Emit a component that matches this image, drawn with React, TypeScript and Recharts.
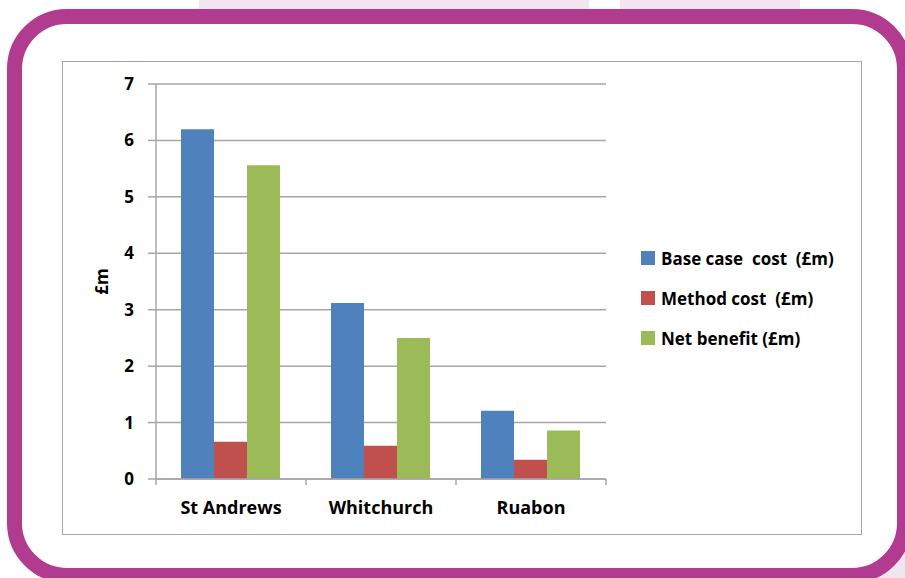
import { BarChart, Bar, XAxis, YAxis, CartesianGrid, Legend } from "recharts";

// Sites and values (£m)
const sites = ["St Andrews", "Whitchurch", "Ruabon"];
const baseCaseCost = [6.2, 3.12, 1.21];
const methodCost = [0.66, 0.59, 0.34];
const netBenefit = [5.56, 2.5, 0.86];
const yTicks = [0, 1, 2, 3, 4, 5, 6, 7];

const seriesInfo = [
  { key: "base", name: "Base case  cost  (£m)", color: "#4F81BD" },
  { key: "method", name: "Method cost  (£m)", color: "#C0504D" },
  { key: "net", name: "Net benefit (£m)", color: "#9BBB59" },
];

const data = sites.map((site, i) => ({
  site,
  base: baseCaseCost[i],
  method: methodCost[i],
  net: netBenefit[i],
}));

const FONT = "'Open Sans', 'DejaVu Sans', sans-serif";
const GRID = "#A6A6A6";

// chart geometry
const W = 905;
const H = 578;
const MARGIN = { top: 84, right: 299, bottom: 69, left: 60 };
const Y_AXIS_W = 96;
const PLOT_W = W - MARGIN.left - Y_AXIS_W - MARGIN.right;
const HALF_BAND = PLOT_W / sites.length / 2;

// category label plus the tick marks at the category boundaries
function SiteTick(props: any) {
  const { x, y, payload, index } = props;
  const axisY = y - 22;
  return (
    <g>
      <line x1={x - HALF_BAND} x2={x - HALF_BAND} y1={axisY} y2={axisY + 6} stroke={GRID} strokeWidth={1.5} />
      {index === sites.length - 1 && (
        <line x1={x + HALF_BAND} x2={x + HALF_BAND} y1={axisY} y2={axisY + 6} stroke={GRID} strokeWidth={1.5} />
      )}
      <text
        x={x}
        y={y}
        dy="0.71em"
        textAnchor="middle"
        fill="#000"
        fontSize={18}
        fontWeight={700}
        fontFamily={FONT}
      >
        {payload.value}
      </text>
    </g>
  );
}

function LegendBox() {
  return (
    <div style={{ fontFamily: FONT, fontWeight: 700, fontSize: 17, color: "#000" }}>
      {seriesInfo.map((s) => (
        <div key={s.key} style={{ display: "flex", alignItems: "center", height: 40 }}>
          <span style={{ display: "inline-block", width: 14, height: 14, background: s.color, marginRight: 6 }} />
          <span style={{ whiteSpace: "pre" }}>{s.name}</span>
        </div>
      ))}
    </div>
  );
}

export default function App() {
  return (
    <div style={{ position: "absolute", left: 0, top: 0, width: W, height: H, overflow: "hidden", background: "#fff" }}>
      {/* faint pink shapes behind the frame */}
      <div style={{ position: "absolute", left: 199, top: 0, width: 390, height: 20, background: "#F3E5F0" }} />
      <div style={{ position: "absolute", left: 620, top: 0, width: 180, height: 20, background: "#F3E5F0" }} />
      <div style={{ position: "absolute", left: 860, top: 520, width: 45, height: 58, background: "#F3E5F0" }} />

      {/* rounded magenta frame */}
      <div
        style={{
          position: "absolute",
          left: 7,
          top: 9,
          width: 905,
          height: 574,
          boxSizing: "border-box",
          border: "15px solid #B13B8E",
          borderRadius: 60,
          background: "#fff",
        }}
      />

      {/* chart frame */}
      <div
        style={{
          position: "absolute",
          left: 62,
          top: 61,
          width: 800,
          height: 474,
          boxSizing: "border-box",
          border: `1.5px solid ${GRID}`,
        }}
      />

      <div style={{ position: "absolute", left: 0, top: 0 }}>
        <BarChart width={W} height={H} data={data} margin={MARGIN} barCategoryGap="16.67%" barGap={0}>
          <CartesianGrid vertical={false} stroke={GRID} strokeWidth={1.5} />
          <XAxis
            dataKey="site"
            height={30}
            tickLine={false}
            tickSize={0}
            tickMargin={22}
            interval={0}
            axisLine={{ stroke: GRID, strokeWidth: 1.5 }}
            tick={<SiteTick />}
          />
          <YAxis
            width={Y_AXIS_W}
            domain={[0, 7]}
            ticks={yTicks}
            interval={0}
            tickSize={8}
            tickMargin={14}
            axisLine={{ stroke: GRID, strokeWidth: 1.5 }}
            tickLine={{ stroke: GRID, strokeWidth: 1.5 }}
            tick={{ fill: "#000", fontSize: 17, fontWeight: 700, fontFamily: FONT }}
            label={{
              value: "£m",
              angle: -90,
              position: "insideLeft",
              offset: 42,
              style: { fill: "#000", fontSize: 17, fontWeight: 700, fontFamily: FONT, textAnchor: "middle" },
            }}
          />
          {seriesInfo.map((s) => (
            <Bar key={s.key} dataKey={s.key} name={s.name} fill={s.color} isAnimationActive={false} />
          ))}
          <Legend
            layout="vertical"
            align="center"
            verticalAlign="middle"
            content={() => <LegendBox />}
            wrapperStyle={{ left: 641, top: 238, width: 240 }}
          />
        </BarChart>
      </div>
    </div>
  );
}
